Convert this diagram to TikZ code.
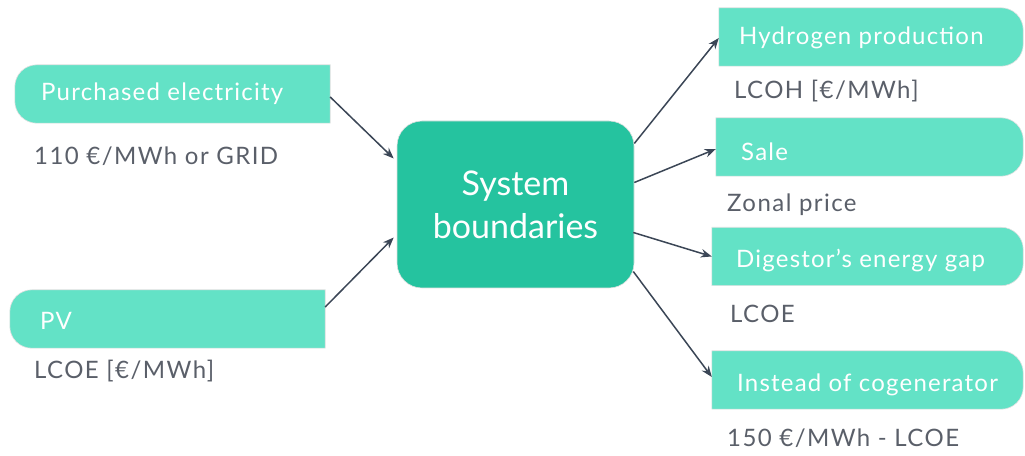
\documentclass[tikz,border=0pt]{standalone}
\usepackage{fontspec}
\setmainfont{Lato}
\newfontfamily\boxfont[LetterSpace=5]{Lato}
\newfontfamily\subfont[LetterSpace=6]{Lato}
\usetikzlibrary{arrows.meta,calc}
\definecolor{lightfill}{HTML}{63E2C6}
\definecolor{darkfill}{HTML}{25C39F}
\definecolor{subgray}{HTML}{5A5F69}
\definecolor{arrowcol}{HTML}{3B4656}
\newcommand\lshapebox[1]{\filldraw[fill=lightfill,draw=black!12,line width=0.6pt] (#1.north east) -- ([xshift=22pt]#1.north west) arc[start angle=90,end angle=180,radius=22pt] -- ([yshift=22pt]#1.south west) arc[start angle=180,end angle=270,radius=22pt] -- (#1.south east) -- cycle;}
\newcommand\rshapebox[1]{\filldraw[fill=lightfill,draw=black!12,line width=0.6pt] (#1.north west) -- ([xshift=-22pt]#1.north east) arc[start angle=90,end angle=0,radius=22pt] -- ([yshift=22pt]#1.south east) arc[start angle=0,end angle=-90,radius=22pt] -- (#1.south west) -- cycle;}
\begin{document}
\begin{tikzpicture}[x=1pt,y=1pt,
  boxarea/.style={rectangle,inner sep=0pt,minimum height=58pt},
  boxtext/.style={anchor=west,inner sep=0pt,text=white,font=\boxfont\fontsize{24}{27}\selectfont},
  subtext/.style={anchor=west,inner sep=0pt,text=subgray,font=\subfont\fontsize{24}{27}\selectfont},
  conn/.style={draw=arrowcol,line width=1.5pt,-{Stealth[length=11pt,width=8.5pt]}}]
\useasboundingbox (0,0) rectangle (1025,455);
% box areas
\node[boxarea,minimum width=315pt] (pe) at (172.5,361) {};
\node[boxarea,minimum width=315pt] (pv) at (167.5,136) {};
\node[boxarea,minimum width=304pt] (h2) at (871,418) {};
\node[boxarea,minimum width=307pt] (sale) at (869.5,308) {};
\node[boxarea,minimum width=311pt] (dig) at (867.5,198.5) {};
\node[boxarea,minimum width=311pt] (cog) at (867.5,75) {};
\lshapebox{pe}
\lshapebox{pv}
\rshapebox{h2}
\rshapebox{sale}
\rshapebox{dig}
\rshapebox{cog}
% center
\node[rectangle,rounded corners=25pt,fill=darkfill,draw=black!12,line width=0.6pt,minimum width=237pt,minimum height=167pt,align=center,text=white,font=\fontsize{34}{43}\selectfont] (sb) at (515.5,250.5) {System\\boundaries};
% box texts
\node[boxtext] (tpe) at (41,361) {Purchased electricity};
\node[boxtext] (tpv) at (40,134) {PV};
\node[boxtext] (th2) at (739,417) {Hydrogen production};
\node[boxtext] (tsale) at (741,303) {Sale};
\node[boxtext] (tdig) at (736,194) {Digestor’s energy gap};
\node[boxtext] (tcog) at (737,70) {Instead of cogenerator};
% sub texts
\node[subtext] (spe) at (34,299) {110 €/MWh or GRID};
\node[subtext] (spv) at (34,84) {LCOE [€/MWh]};
\node[subtext] (sh2) at (734,364) {LCOH [€/MWh]};
\node[subtext] (ssale) at (727,250) {Zonal price};
\node[subtext] (sdig) at (730,141) {LCOE};
\node[subtext] (scog) at (727,17) {150 €/MWh - LCOE};
% connectors
\draw[conn] ([yshift=-3pt]pe.east) -- ($(sb.west)+(-3,46)$);
\draw[conn] ([yshift=12pt]pv.east) -- ($(sb.west)+(-3,-33)$);
\draw[conn] ($(sb.east)+(0,61)$) -- ([yshift=-1pt]h2.west);
\draw[conn] ($(sb.east)+(0,22)$) -- ([yshift=-2pt]sale.west);
\draw[conn] ($(sb.east)+(-1,-28)$) -- (dig.west);
\draw[conn] ($(sb.east)+(-1,-67)$) -- ([yshift=3pt]cog.west);
\end{tikzpicture}
\end{document}
